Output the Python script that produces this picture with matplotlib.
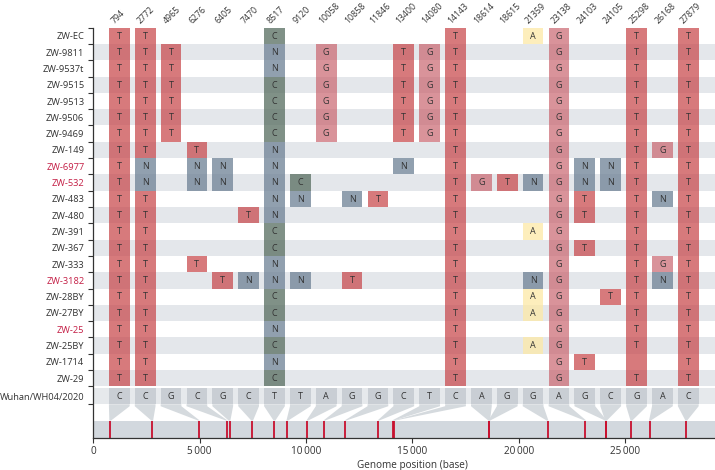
import matplotlib
matplotlib.use("Agg")
import matplotlib.pyplot as plt
from matplotlib.patches import Rectangle, Polygon

plt.rcParams['font.family'] = ['Open Sans', 'DejaVu Sans']

# ---------------- data ----------------
positions = [794, 2772, 4965, 6276, 6405, 7470, 8517, 9120, 10058, 10858, 11846,
             13400, 14080, 14143, 18614, 18615, 21359, 23138, 24103, 24105,
             25298, 26168, 27879]
reference = list("CCGCGCTTAGGCTCAGGAGCGAC")
reference_name = "Wuhan/WH04/2020"

samples = ["ZW-EC", "ZW-9811", "ZW-9537t", "ZW-9515", "ZW-9513", "ZW-9506",
           "ZW-9469", "ZW-149", "ZW-6977", "ZW-532", "ZW-483", "ZW-480",
           "ZW-391", "ZW-367", "ZW-333", "ZW-3182", "ZW-28BY", "ZW-27BY",
           "ZW-25", "ZW-25BY", "ZW-1714", "ZW-29"]
highlighted = ["ZW-6977", "ZW-532", "ZW-3182", "ZW-25"]

# '.' = same as reference; lowercase = coloured cell without letter
variants = [
    "TT....C......T..AG..T.T",   # ZW-EC
    "TTT...N.G..TGT...G..T.T",   # ZW-9811
    "TTT...N.G..TGT...G..T.T",   # ZW-9537t
    "TTT...C.G..TGT...G..T.T",   # ZW-9515
    "TTT...C.G..TGT...G..T.T",   # ZW-9513
    "TTT...C.G..TGT...G..T.T",   # ZW-9506
    "TTT...C.G..TGT...G..T.T",   # ZW-9469
    "TT.T..N......T...G..TGT",   # ZW-149
    "TN.NN.N....N.T...GNNT.T",   # ZW-6977
    "TN.NN.NC.....TGTNGNNT.T",   # ZW-532
    "TT....NN.NT..T...GT.TNT",   # ZW-483
    "TT...TN......T...GT.T.T",   # ZW-480
    "TT....C......T..AG..T.T",   # ZW-391
    "TT....C......T...GT.T.T",   # ZW-367
    "TT.T..N......T...G..TGT",   # ZW-333
    "TT..TNNN.T...T..NG..TNT",   # ZW-3182
    "TT....C......T..AG.TT.T",   # ZW-28BY
    "TT....C......T..AG..T.T",   # ZW-27BY
    "TT....N......T...G..T.T",   # ZW-25
    "TT....C......T..AG..T.T",   # ZW-25BY
    "TT....N......T...GT.t.T",   # ZW-1714
    "TT....C......T...G..T.T",   # ZW-29
]

# ---------------- style ----------------
base_colors = {
    'T': ('#c8474a', 0.72),
    'G': ('#c8606a', 0.68),
    'N': ('#6d8194', 0.75),
    'C': ('#5d7265', 0.78),
    'A': ('#fde9a6', 0.75),
}
band_color = '#e4e7eb'
text_color = '#333333'
red_label = '#c41e45'

XMAX = 29230
COL_X0 = 1222
COL_STEP = 1216
CELL_W = 975
n_rows = len(samples)
WUH_TOP, WUH_BOT = 22.12, 23.10
GEN_TOP, GEN_BOT = 24.10, 25.14

fig = plt.figure(figsize=(7.15, 4.7), dpi=100)
ax = fig.add_axes([0.1305, 0.0691, 0.8695, 0.8720])
ax.set_xlim(0, XMAX)
ax.set_ylim(GEN_BOT, 0)

col_x = [COL_X0 + i * COL_STEP for i in range(len(positions))]

# row bands
for r in range(n_rows):
    if r % 2 == 1:
        ax.add_patch(Rectangle((0, r), XMAX, 1, facecolor=band_color,
                               edgecolor='none', zorder=0))

# cells
for r, row in enumerate(variants):
    for c, b in enumerate(row):
        if b == '.':
            continue
        col, a = base_colors[b.upper()]
        ax.add_patch(Rectangle((col_x[c] - CELL_W / 2, r), CELL_W, 1,
                               facecolor=col, alpha=a, edgecolor='none', zorder=2))
        if b.isupper():
            ax.text(col_x[c], r + 0.52, b, ha='center', va='center',
                    fontsize=6.5, color=text_color, zorder=3)

# column labels
for c, p in enumerate(positions):
    ax.text(col_x[c] - 200, -0.2, str(p), rotation=45, rotation_mode='anchor',
            ha='left', va='baseline', fontsize=6.3, color=text_color, clip_on=False)

# reference row
ax.add_patch(Rectangle((0, WUH_TOP), XMAX, WUH_BOT - WUH_TOP, facecolor='#e6e9ec',
                       edgecolor='none', zorder=0))
for c, b in enumerate(reference):
    ax.add_patch(Rectangle((col_x[c] - CELL_W / 2, WUH_TOP), CELL_W, WUH_BOT - WUH_TOP,
                           facecolor='#c9ced4', edgecolor='none', zorder=1))
    ax.text(col_x[c], (WUH_TOP + WUH_BOT) / 2 + 0.02, b, ha='center', va='center',
            fontsize=6.5, color=text_color, zorder=3)
    # connector
    p = positions[c]
    poly = Polygon([(col_x[c] - CELL_W / 2, WUH_BOT), (col_x[c] + CELL_W / 2, WUH_BOT),
                    (col_x[c] + CELL_W / 2, WUH_BOT + 0.12),
                    (p + 40, GEN_TOP), (p - 40, GEN_TOP),
                    (col_x[c] - CELL_W / 2, WUH_BOT + 0.12)],
                   closed=True, facecolor='#d5dade', edgecolor='none', zorder=1)
    ax.add_patch(poly)

# genome band
ax.add_patch(Rectangle((0, GEN_TOP), XMAX, GEN_BOT - GEN_TOP, facecolor='#d2d8de',
                       edgecolor='none', zorder=0))
ax.vlines(positions, GEN_TOP, GEN_BOT, colors='#c8102e', linewidth=1.3, zorder=2)

# axes styling
for s in ['top', 'right']:
    ax.spines[s].set_visible(False)
for s in ['left', 'bottom']:
    ax.spines[s].set_color(text_color)
    ax.spines[s].set_linewidth(0.9)

yt = [r + 0.5 for r in range(n_rows)] + [(WUH_TOP + WUH_BOT) / 2]
ax.set_yticks(yt)
ax.set_yticklabels(samples + [reference_name], fontsize=6.7, color=text_color)
for lab, name in zip(ax.get_yticklabels(), samples + [reference_name]):
    if name in highlighted:
        lab.set_color(red_label)
ax.tick_params(axis='y', which='major', length=0, pad=6.5)
ax.set_yticks(list(range(n_rows + 1)) + [WUH_BOT], minor=True)
ax.tick_params(axis='y', which='minor', length=3.5, width=0.8, color=text_color,
               direction='out')

xt = [0, 5000, 10000, 15000, 20000, 25000]
ax.set_xticks(xt)
ax.set_xticklabels([f"{v:,}".replace(',', '\u2009') for v in xt], fontsize=7.2,
                   color=text_color)
ax.tick_params(axis='x', length=3.5, width=0.8, color=text_color, pad=2.5)
ax.text(15000, -0.054, "Genome position (base)", transform=ax.get_xaxis_transform(),
        ha='center', va='top', fontsize=7.2, color=text_color)

fig.savefig("out.png", dpi=100)
